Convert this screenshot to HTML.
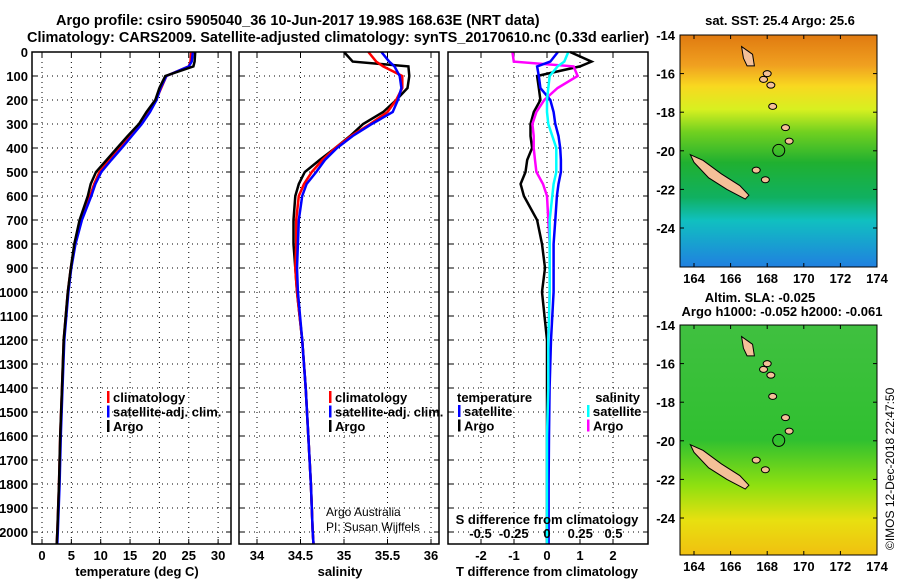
<!DOCTYPE html>
<html><head><meta charset="utf-8"><style>
body{margin:0;background:#fff;}
svg{display:block;font-family:"Liberation Sans",sans-serif;font-weight:bold;}
</style></head><body>
<svg id="c" width="900" height="580" xmlns="http://www.w3.org/2000/svg">
<defs>
<linearGradient id="sstg" x1="0" y1="0" x2="0" y2="1">
<stop offset="0" stop-color="#e07a10"/><stop offset="0.13" stop-color="#f0a020"/><stop offset="0.22" stop-color="#f8d820"/><stop offset="0.32" stop-color="#d8f020"/><stop offset="0.42" stop-color="#70d020"/><stop offset="0.55" stop-color="#20b030"/><stop offset="0.7" stop-color="#10b060"/><stop offset="0.8" stop-color="#10c0c0"/><stop offset="1" stop-color="#2080e0"/>
</linearGradient>
<linearGradient id="slag" x1="0" y1="0" x2="0" y2="1">
<stop offset="0" stop-color="#40c040"/><stop offset="0.5" stop-color="#30c030"/><stop offset="0.7" stop-color="#90e010"/><stop offset="0.85" stop-color="#e8e010"/><stop offset="1" stop-color="#f0c010"/>
</linearGradient>
</defs>
<g id="root"></g>
</svg>
<script>
const depths=[0,40,60,100,150,200,250,300,350,400,450,500,550,600,700,800,900,1000,1200,1400,1600,1800,2000,2050];
const tempClim=[25.4,25.3,25.0,21.2,20.3,19.4,18.2,16.8,15.0,13.3,11.5,9.8,8.9,8.2,6.6,5.6,4.9,4.4,3.7,3.4,3.1,2.9,2.6,2.5];
const tempSat=[25.7,25.5,25.0,21.2,20.2,19.5,18.4,17.0,15.3,13.6,11.8,10.1,9.1,8.4,6.8,5.7,5.0,4.5,3.8,3.5,3.2,3.0,2.7,2.6];
const tempArgo=[26.1,26.0,25.8,21.0,20.0,19.3,17.8,16.5,14.6,12.8,11.0,9.2,8.3,7.8,6.4,5.5,4.9,4.4,3.7,3.4,3.1,2.9,2.6,2.5];
const salClim=[35.28,35.37,35.45,35.67,35.67,35.6,35.5,35.3,35.08,34.9,34.75,34.63,34.54,34.48,34.45,34.45,34.44,34.46,34.52,34.56,34.59,34.62,34.64,34.65];
const salSat=[35.43,35.52,35.58,35.64,35.66,35.62,35.56,35.32,35.1,34.92,34.78,34.68,34.57,34.52,34.48,34.47,34.46,34.47,34.52,34.56,34.59,34.62,34.64,34.65];
const salArgo=[35.0,35.1,35.74,35.75,35.73,35.6,35.45,35.22,35.07,34.9,34.72,34.55,34.48,34.44,34.42,34.42,34.44,34.46,34.52,34.56,34.59,34.62,34.64,34.65];
const dTsat=[0.33,0.1,-0.3,-0.25,-0.2,0.1,0.2,0.25,0.35,0.4,0.42,0.42,0.35,0.3,0.25,0.2,0.2,0.2,0.12,0.08,0.06,0.05,0.05,0.05];
const dTargo=[0.7,1.35,1.0,-0.3,-0.25,-0.2,-0.4,-0.5,-0.5,-0.45,-0.6,-0.65,-0.8,-0.7,-0.3,-0.15,-0.06,-0.15,0,0,0,0,0,0];
const dSsat=[0.16,0.13,0.08,0.02,0.01,0,0,0.01,0.04,0.07,0.07,0.07,0.05,0.04,0.02,0.02,0.02,0.02,0.01,0.01,0,0,0,0];
const dSargo=[-0.26,-0.25,0.2,0.23,0.08,-0.02,-0.08,-0.11,-0.1,-0.1,-0.09,-0.08,-0.03,0,0.01,0.02,0.02,0.02,0.01,0.01,0.01,0.01,0.01,0.01];
const depthTicks=[0,100,200,300,400,500,600,700,800,900,1000,1100,1200,1300,1400,1500,1600,1700,1800,1900,2000];
const tempTicks=[0,5,10,15,20,25,30];
const salTicks=[34,34.5,35,35.5,36];
const dTTicks=[-2,-1,0,1,2];
const dSTicks=[-0.5,-0.25,0,0.25,0.5];
const dSTickLabels=["-0.5","-0.25","0","0.25","0.5"];
const latTicks=[-14,-16,-18,-20,-22,-24];
const lonTicks=[164,166,168,170,172,174];

const NS='http://www.w3.org/2000/svg';
const root=document.getElementById('root');
function el(tag,attrs,parent){const e=document.createElementNS(NS,tag);for(const k in attrs)e.setAttribute(k,attrs[k]);(parent||root).appendChild(e);return e;}
function txt(x,y,s,anchor,size,parent){const t=el('text',{x:x,y:y,'font-size':size||13,'text-anchor':anchor||'start'},parent);t.textContent=s;return t;}
const Y0=52,YB=544;
function yd(d){return Y0+d*0.24;}

function panel(name,x0,x1,sx,ticks,labels,series){
  const g=el('g',{});
  
  
  depthTicks.forEach(d=>{if(d>0){el('line',{x1:x0,x2:x1,y1:yd(d),y2:yd(d),stroke:'#000','stroke-dasharray':'1,4'},g);}
    el('line',{x1:x0,x2:x0+5,y1:yd(d),y2:yd(d),stroke:'#000'},g);el('line',{x1:x1-5,x2:x1,y1:yd(d),y2:yd(d),stroke:'#000'},g);});
  ticks.forEach((v,i)=>{const x=sx(v);el('line',{x1:x,x2:x,y1:Y0,y2:YB,stroke:'#000','stroke-dasharray':'1,4'},g);
    el('line',{x1:x,x2:x,y1:YB-5,y2:YB,stroke:'#000'},g);el('line',{x1:x,x2:x,y1:Y0,y2:Y0+5,stroke:'#000'},g);
    if(labels){const t=txt(x,560,labels[i],'middle',13,g);}});
  series.forEach(s=>{const p=el('polyline',{points:s.v.map((v,i)=>(s.sx||sx)(v).toFixed(1)+','+yd(depths[i]).toFixed(1)).join(' '),fill:'none',stroke:s.c,'stroke-width':2.5},g);
    });
  el('rect',{x:x0,y:Y0,width:x1-x0,height:YB-Y0,fill:'none',stroke:'#000','stroke-width':1.5},g);
  return g;
}
const sT=v=>42+v*5.87, sS=v=>257+(v-34)*87, sD=v=>547+v*33, sDS=v=>547+v*133;
panel('temperature-panel',32,231,sT,tempTicks,tempTicks.map(String),[{v:tempClim,c:'#f00',n:'temp-climatology-line'},{v:tempSat,c:'#00f',n:'temp-satellite-line'},{v:tempArgo,c:'#000',n:'temp-argo-line'}]);
panel('salinity-panel',239,439,sS,salTicks,salTicks.map(String),[{v:salArgo,c:'#000',n:'sal-argo-line'},{v:salClim,c:'#f00',n:'sal-climatology-line'},{v:salSat,c:'#00f',n:'sal-satellite-line'}]);
const p3=panel('difference-panel',448,648,sD,dTTicks,dTTicks.map(String),[{v:dTargo,c:'#000',n:'dT-argo-line'},{v:dSargo,c:'#f0f',n:'dS-argo-line',sx:sDS},{v:dTsat,c:'#00f',n:'dT-satellite-line'},{v:dSsat,c:'#0ff',n:'dS-satellite-line',sx:sDS}]);
dSTicks.forEach((v,i)=>{const t=txt(sDS(v),538,dSTickLabels[i],'middle',13,p3);});
depthTicks.forEach(d=>{const t=txt(28,yd(d)+5,String(d),'end',13);});

function legend(x,y,items,name){items.forEach((it,i)=>{const yy=y+i*14.5;
  const m=el('rect',{x:x,y:yy-11,width:2.5,height:12,fill:it[1]});
  const t=txt(x+6,yy,it[0],'start',13);});}
legend(107,402,[['climatology','#f00'],['satellite-adj. clim.','#00f'],['Argo','#000']],'temp-legend');
legend(329,402,[['climatology','#f00'],['satellite-adj. clim.','#00f'],['Argo','#000']],'sal-legend');
let t;
t=txt(457,402,'temperature');
legend(458,416,[['satellite','#00f'],['Argo','#000']],'dT-legend');
t=txt(640,402,'salinity','end');
[['satellite','#0ff'],['Argo','#f0f']].forEach((it,i)=>{const yy=416+i*14.5;el('rect',{x:587,y:yy-11,width:2.5,height:12,fill:it[1]});const q=txt(593,yy,it[0]);});
t=txt(547,524,'S difference from climatology','middle');
t=txt(137,576,'temperature (deg C)','middle');
t=txt(340,576,'salinity','middle');
t=txt(547,576,'T difference from climatology','middle');
t=el('text',{x:326,y:516,'font-size':12,'font-weight':'normal'});t.textContent='Argo Australia';
t=el('text',{x:326,y:531,'font-size':12,'font-weight':'normal'});t.textContent='PI: Susan Wijffels';
t=txt(56,25,'Argo profile: csiro 5905040_36 10-Jun-2017 19.98S 168.63E (NRT data)','start',14.5);
t=txt(27,42,'Climatology: CARS2009. Satellite-adjusted climatology: synTS_20170610.nc (0.33d earlier)','start',14.5);

function map(name,top,bottom,fillId,latScale,titles){
  const g=el('g',{});
  
  
  const x0=680,x1=877,lx=v=>694+(v-164)*18.3,ly=v=>top+(-14-v)*latScale;
  el('rect',{x:x0,y:top,width:x1-x0,height:bottom-top,fill:'url(#'+fillId+')'},g);
  const isl=[[163.8,-20.2],[164.5,-20.5],[165.5,-21.2],[166.5,-21.8],[167.0,-22.3],[166.8,-22.5],[165.8,-22.0],[164.8,-21.4],[164.0,-20.6]];
  const p=el('polygon',{points:isl.map(a=>lx(a[0])+','+ly(a[1])).join(' '),fill:'#f4c098',stroke:'#000','stroke-width':1},g);
  
  const van=[[166.6,-14.6],[167.2,-15.0],[167.3,-15.6],[166.9,-15.6],[166.7,-15.2]];
  el('polygon',{points:van.map(a=>lx(a[0])+','+ly(a[1])).join(' '),fill:'#f4c098',stroke:'#000'},g);
  [[167.8,-16.3],[168.2,-16.6],[168.3,-17.7],[169.0,-18.8],[169.2,-19.5],[167.4,-21.0],[167.9,-21.5],[168.0,-16.0]].forEach(a=>el('ellipse',{cx:lx(a[0]),cy:ly(a[1]),rx:4,ry:3,fill:'#f4c098',stroke:'#000'},g));
  const c=el('circle',{cx:lx(168.63),cy:ly(-19.98),r:6,fill:'none',stroke:'#000'},g);
  el('rect',{x:x0,y:top,width:x1-x0,height:bottom-top,fill:'none',stroke:'#000'},g);
  latTicks.forEach(v=>{const y=ly(v);el('line',{x1:x0,x2:x0+4,y1:y,y2:y,stroke:'#000'},g);el('line',{x1:x1-4,x2:x1,y1:y,y2:y,stroke:'#000'},g);
    const q=txt(675,y+5,String(v),'end',13,g);});
  lonTicks.forEach(v=>{const x=lx(v);el('line',{x1:x,x2:x,y1:bottom-4,y2:bottom,stroke:'#000'},g);el('line',{x1:x,x2:x,y1:top,y2:top+4,stroke:'#000'},g);
    const q=txt(x,bottom+16,String(v),'middle',13,g);});
  titles.forEach(a=>{const q=txt(a[0],a[1],a[2],'middle',13,g);});
}
map('sst-map',35,267,'sstg',19.3,[[780,25,'sat. SST: 25.4 Argo: 25.6']]);
map('sla-map',325,555,'slag',19.3,[[760,302,'Altim. SLA: -0.025'],[782,316,'Argo h1000: -0.052 h2000: -0.061']]);
t=el('text',{x:0,y:0,'font-size':12,'font-weight':'normal',transform:'translate(894,550) rotate(-90)'});t.textContent='©IMOS 12-Dec-2018 22:47:50';
</script>
</body></html>
